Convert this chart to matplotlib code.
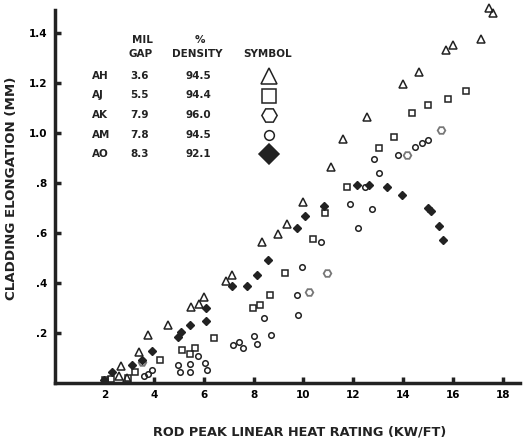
import numpy as np
import matplotlib
matplotlib.use('Agg')
import matplotlib.pyplot as plt

# AH - triangles
ah_x = [17.45, 17.61, 17.13, 15.72, 16.0, 14.64, 14.0, 12.55, 11.59, 11.1, 9.98, 9.34,
        8.98, 8.33, 7.13, 6.89, 6.0, 5.8, 5.48, 4.56, 3.76, 3.39, 2.67, 2.6, 2.9]
ah_y = [1.50, 1.48, 1.376, 1.332, 1.352, 1.244, 1.196, 1.064, 0.976, 0.864, 0.724, 0.636,
        0.596, 0.564, 0.432, 0.408, 0.344, 0.316, 0.304, 0.232, 0.192, 0.124, 0.068, 0.03, 0.02]

# AJ - squares
aj_x = [16.53, 15.8, 15.0, 14.36, 13.63, 13.03, 11.75, 10.86, 10.38, 9.26, 8.65, 8.25,
        7.97, 6.41, 5.64, 5.44, 5.12, 4.24, 3.23, 2.95, 2.27, 2.03]
aj_y = [1.168, 1.136, 1.112, 1.08, 0.984, 0.94, 0.784, 0.68, 0.576, 0.44, 0.352, 0.312,
        0.30, 0.18, 0.14, 0.116, 0.132, 0.092, 0.044, 0.02, 0.016, 0.012]

# AK - hexagons
ak_x = [15.52, 14.16, 10.94, 10.22, 3.51]
ak_y = [1.012, 0.912, 0.44, 0.364, 0.084]

# AM - circles
am_x = [15.0, 14.76, 14.48, 13.8, 12.83, 13.03, 12.47, 11.87, 12.75, 12.19, 10.7, 9.94,
        9.74, 9.78, 8.69, 8.41, 8.13, 8.01, 7.57, 7.41, 7.17, 5.76, 6.04, 6.12, 5.44,
        5.44, 4.96, 5.04, 3.92, 3.76, 3.6]
am_y = [0.972, 0.96, 0.944, 0.912, 0.896, 0.84, 0.784, 0.716, 0.696, 0.62, 0.564, 0.464,
        0.352, 0.272, 0.192, 0.26, 0.156, 0.188, 0.14, 0.164, 0.152, 0.108, 0.08, 0.052, 0.076,
        0.044, 0.072, 0.044, 0.052, 0.036, 0.028]

# AO - filled diamonds
ao_x = [1.99, 2.31, 3.11, 3.51, 3.92, 4.96, 5.08, 5.44, 6.08, 6.08, 7.13, 7.73, 8.13,
        8.57, 9.74, 10.06, 10.82, 12.15, 12.63, 13.35, 13.96, 15.0, 15.12, 15.44, 15.6]
ao_y = [0.012, 0.044, 0.072, 0.092, 0.128, 0.184, 0.204, 0.232, 0.30, 0.248, 0.388, 0.388,
        0.432, 0.492, 0.62, 0.668, 0.708, 0.792, 0.792, 0.784, 0.752, 0.70, 0.688, 0.628, 0.572]

# legend table
rods = ['AH', 'AJ', 'AK', 'AM', 'AO']
gaps = ['3.6', '5.5', '7.9', '7.8', '8.3']
densities = ['94.5', '94.4', '96.0', '94.5', '92.1']

xticks = [2, 4, 6, 8, 10, 12, 14, 16, 18]
yticks = [0.2, 0.4, 0.6, 0.8, 1.0, 1.2, 1.4]
ytick_labels = ['.2', '.4', '.6', '.8', '1.0', '1.2', '1.4']

plt.rcParams['font.family'] = 'DejaVu Sans'
plt.rcParams['font.weight'] = 'bold'

W, H = 524, 443
fig = plt.figure(figsize=(W / 100, H / 100), dpi=100)
ax = fig.add_axes([54.5 / W, 1 - 383 / H, 465.5 / W, 373 / H])


def px(x, y):
    return x / W, 1 - y / H


ink = '#222222'
ax.plot(ah_x, ah_y, ls='none', marker='^', ms=6, mfc='none', mec=ink, mew=1.1, clip_on=False)
ax.plot(aj_x, aj_y, ls='none', marker='s', ms=5, mfc='none', mec=ink, mew=1.1, clip_on=False)
ax.plot(ak_x, ak_y, ls='none', marker='H', ms=5.5, mfc='none', mec='#777777', mew=1.3, clip_on=False)
ax.plot(am_x, am_y, ls='none', marker='o', ms=4, mfc='none', mec=ink, mew=1.1, clip_on=False)
ax.plot(ao_x, ao_y, ls='none', marker='D', ms=3.6, mfc=ink, mec=ink, clip_on=False)

ax.set_xlim(0, 18.7)
ax.set_ylim(0, 1.492)
ax.set_xticks(xticks)
ax.set_xticklabels([str(t) for t in xticks])
ax.set_yticks(yticks)
ax.set_yticklabels(ytick_labels)
ax.tick_params(direction='in', length=4, width=2.5, color=ink, labelsize=7.5, pad=5)
for lab in ax.get_xticklabels() + ax.get_yticklabels():
    lab.set_fontweight('bold')
for s in ['top', 'right']:
    ax.spines[s].set_visible(False)
for s in ['left', 'bottom']:
    ax.spines[s].set_linewidth(2.5)
    ax.spines[s].set_color(ink)

fig.text(*px(300, 432), 'ROD PEAK LINEAR HEAT RATING (KW/FT)', ha='center', va='center',
         fontsize=9.3, fontweight='bold', color=ink)
fig.text(*px(12, 188), 'CLADDING ELONGATION (MM)', ha='center', va='center',
         rotation=90, fontsize=9.6, fontweight='bold', color=ink)

# legend table
hdr = dict(ha='center', va='center', fontsize=7.5, fontweight='bold', color=ink)
fig.text(*px(142, 40), 'MIL', **hdr)
fig.text(*px(141, 54), 'GAP', **hdr)
fig.text(*px(200, 40), '%', **hdr)
fig.text(*px(197, 54), 'DENSITY', **hdr)
fig.text(*px(268, 54), 'SYMBOL', **hdr)

markers = [('^', 11, 'none'), ('s', 10, 'none'), ('H', 11, 'none'), ('o', 7, 'none'), ('D', 10, ink)]
for i, (r, g, d) in enumerate(zip(rods, gaps, densities)):
    yy = 76 + i * 19.5
    fig.text(*px(92, yy), r, ha='left', va='center', fontsize=7.5, fontweight='bold', color=ink)
    fig.text(*px(130, yy), g, ha='left', va='center', fontsize=7.5, fontweight='bold', color=ink)
    fig.text(*px(198, yy), d, ha='center', va='center', fontsize=7.5, fontweight='bold', color=ink)
    m, ms, fc = markers[i]
    ax.plot(*px(269, yy), marker=m, ms=ms, mfc=fc, mec=ink, mew=1.1,
            transform=fig.transFigure, clip_on=False)

fig.savefig('out.png', dpi=100)
